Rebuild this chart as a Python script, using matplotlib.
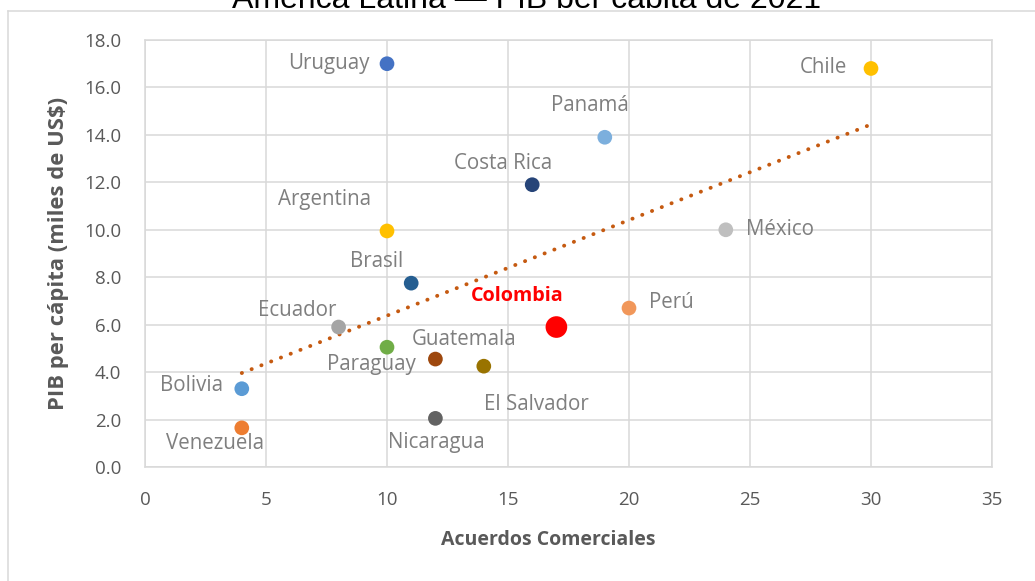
import numpy as np
import matplotlib
matplotlib.use("Agg")
from matplotlib import pyplot as plt
from matplotlib.lines import Line2D
from matplotlib.transforms import Bbox, TransformedBbox

# Datos: acuerdos comerciales vs PIB per cápita 2021 (miles de US$)
paises = ["Uruguay", "Chile", "Panamá", "Costa Rica", "Argentina", "México",
          "Brasil", "Perú", "Colombia", "Ecuador", "Paraguay", "Guatemala",
          "El Salvador", "Bolivia", "Nicaragua", "Venezuela"]
acuerdos = [10, 30, 19, 16, 10, 24, 11, 20, 17, 8, 10, 12, 14, 4, 12, 4]
pib = [17.0, 16.8, 13.9, 11.9, 9.95, 10.0, 7.75, 6.7, 5.9, 5.9, 5.05, 4.55,
       4.25, 3.3, 2.05, 1.65]
colores = ["#4472C4", "#FFC000", "#7CAFDD", "#264478", "#FFC000", "#BFBFBF",
           "#255E91", "#F1975A", "#FF0000", "#A5A5A5", "#70AD47", "#9E480E",
           "#997300", "#5B9BD5", "#636363", "#ED7D31"]

# posición de cada etiqueta relativa al punto (pixeles) y alineación
etiquetas = {
    "Uruguay": (-18, 0, "right"),
    "Chile": (-24, 1, "right"),
    "Panamá": (-15, 32, "center"),
    "Costa Rica": (-29, 21, "center"),
    "Argentina": (-16, 31, "right"),
    "México": (20, 0, "left"),
    "Brasil": (-35, 22, "center"),
    "Perú": (20, 6, "left"),
    "Colombia": (-39, 31, "center"),
    "Ecuador": (-41, 17, "center"),
    "Paraguay": (-16, -17, "center"),
    "Guatemala": (29, 20, "center"),
    "El Salvador": (53, -38, "center"),
    "Bolivia": (-19, 3, "right"),
    "Nicaragua": (1, -24, "center"),
    "Venezuela": (-27, -16, "center"),
}

plt.rcParams['font.family'] = ['Open Sans', 'DejaVu Sans']

fig = plt.figure(figsize=(10.35, 5.81), dpi=100)
ax = fig.add_axes([145/1035, 114/581, 847/1035, 427/581])

# línea de tendencia (regresión lineal)
m, b = np.polyfit(acuerdos, pib, 1)
xt = np.array([min(acuerdos), max(acuerdos)])
ax.plot(xt, m*xt + b, color="#C55A11", lw=2.8, linestyle=(0, (0.05, 2.65)),
        dash_capstyle="round", zorder=2)

tam = [243 if p == "Colombia" else 112 for p in paises]
ax.scatter(acuerdos, pib, s=tam, c=colores, edgecolors="none", zorder=3)

for p, x, y in zip(paises, acuerdos, pib):
    dx, dy, ha = etiquetas[p]
    if p == "Colombia":
        ax.annotate(p, (x, y), xytext=(dx, dy), textcoords="offset pixels",
                    ha=ha, va="center", fontsize=14.2, fontweight="bold",
                    color="#FF0000", zorder=4)
    else:
        ax.annotate(p, (x, y), xytext=(dx, dy), textcoords="offset pixels",
                    ha=ha, va="center", fontsize=14.8, color="#7F7F7F", zorder=4)

ax.set_xlim(0, 35)
ax.set_ylim(0, 18)
ax.set_xticks(range(0, 36, 5))
ax.set_yticks(range(0, 19, 2))
ax.set_yticklabels([f"{v:.1f}" for v in range(0, 19, 2)])
ax.grid(True, color="#D9D9D9", lw=1.1)
ax.set_axisbelow(True)
for s in ax.spines.values():
    s.set_color("#D9D9D9")
    s.set_linewidth(1.1)
ax.tick_params(length=0, labelsize=13.5, labelcolor="#595959")
ax.tick_params(axis="x", pad=17)
ax.tick_params(axis="y", pad=17)

ax.set_xlabel("Acuerdos Comerciales", fontsize=14, fontweight="bold", color="#595959")
ax.set_ylabel("PIB per cápita (miles de US\\$)", fontsize=15.8, fontweight="bold",
              color="#595959")
ax.xaxis.set_label_coords(0.476, -0.148)
ax.yaxis.set_label_coords(-0.090, 0.499)

# título recortado arriba (solo se ve la parte baja)
titulo = fig.text(527/1035, 1 - 8/581, "América Latina — PIB per cápita de 2021",
                  family="Liberation Sans", fontsize=23, color="black",
                  ha="center", va="baseline")
titulo.set_clip_box(TransformedBbox(Bbox([[0, 1 - 8/581], [1, 1]]), fig.transFigure))
titulo.set_clip_on(True)

# marco del gráfico
fig.lines.append(Line2D([8/1035, 8/1035], [0, 1 - 11/581], transform=fig.transFigure,
                        color="#D9D9D9", lw=1.1, zorder=5))
fig.lines.append(Line2D([8/1035, 1], [1 - 11/581, 1 - 11/581], transform=fig.transFigure,
                        color="#D9D9D9", lw=1.1, zorder=5))

fig.savefig("out.png", dpi=100)
